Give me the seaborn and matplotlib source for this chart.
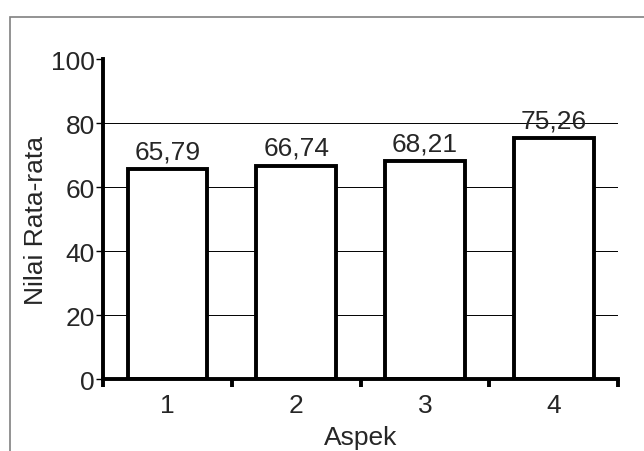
import matplotlib
matplotlib.use("Agg")
import matplotlib.pyplot as plt
import seaborn as sns
import pandas as pd
from matplotlib.patches import Rectangle

# data
aspek = ["1", "2", "3", "4"]
nilai = [65.79, 66.74, 68.21, 75.26]
y_ticks = [0, 20, 40, 60, 80, 100]

sns.set_theme(style="white")
plt.rcParams['font.family'] = ['Liberation Sans', 'DejaVu Sans']

df = pd.DataFrame({"Aspek": aspek, "Nilai": nilai})

fig = plt.figure(figsize=(6.44, 4.52), dpi=100)
ax = fig.add_axes([0.16, 0.159, 0.8, 0.708])

# outer frame around the chart area
fig.patches.append(Rectangle((10 / 644, -0.1), 1.2, 1 - 18 / 452 + 0.1,
                             transform=fig.transFigure, fill=False,
                             edgecolor="#808080", linewidth=1.2))

sns.barplot(data=df, x="Aspek", y="Nilai", ax=ax, color="white",
            edgecolor="black", linewidth=2.8, width=0.62, saturation=1)

labels = [f"{v:.2f}".replace(".", ",") for v in nilai]
ax.bar_label(ax.containers[0], labels=labels, padding=4, fontsize=19)

ax.set_ylim(0, 100)
ax.set_xlim(-0.5, 3.5)
ax.set_yticks(y_ticks)
ax.set_yticklabels([str(t) for t in y_ticks], fontsize=19)
ax.yaxis.grid(True, color="black", linewidth=0.7)
ax.yaxis.get_gridlines()[-1].set_visible(False)  # no line at 100
ax.set_axisbelow(True)

# category boundaries get the tick marks, labels sit in the middle
ax.set_xticks([i for i in range(len(aspek))])
ax.set_xticklabels(aspek, fontsize=19)
ax.set_xticks([i - 0.5 for i in range(len(aspek) + 1)], minor=True)
ax.tick_params(axis="x", which="major", length=0, pad=10)
ax.tick_params(axis="x", which="minor", length=6, width=2.8, color="black",
               direction="out", bottom=True)
ax.tick_params(axis="y", which="major", length=5, width=1, color="black",
               direction="out", left=True, pad=1)

for s in ["top", "right"]:
    ax.spines[s].set_visible(False)
for s in ["left", "bottom"]:
    ax.spines[s].set_color("black")
    ax.spines[s].set_linewidth(2.8)

ax.set_xlabel("Aspek", fontsize=19, labelpad=6)
ax.set_ylabel("Nilai Rata-rata", fontsize=19, labelpad=2)

fig.savefig("out.png", dpi=100, facecolor="white")
